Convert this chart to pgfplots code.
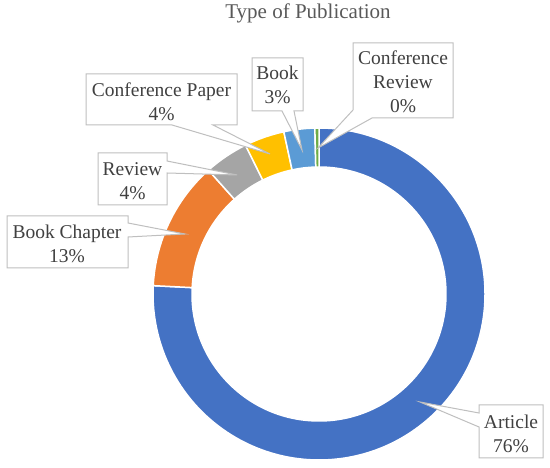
\documentclass[border=0pt]{standalone}
\usepackage{fontspec}
\setmainfont{Liberation Serif}
\usepackage{pgfplots}
\usepackage{pgfplotstable}
\pgfplotsset{compat=1.18}

\definecolor{cArticle}{HTML}{4472C4}
\definecolor{cChapter}{HTML}{ED7D31}
\definecolor{cReview}{HTML}{A5A5A5}
\definecolor{cPaper}{HTML}{FFC000}
\definecolor{cBook}{HTML}{5B9BD5}
\definecolor{cConfRev}{HTML}{70AD47}
\definecolor{titlegray}{HTML}{595959}
\definecolor{labelgray}{HTML}{404040}
\definecolor{boxgray}{HTML}{BFBFBF}

% share of each publication type (%), clockwise from 12 o'clock
\pgfplotstableread{
value color
75.8 cArticle
12.6 cChapter
4.3  cReview
3.9  cPaper
3.0  cBook
0.4  cConfRev
}\pubdata

\tikzset{callout/.style={draw=boxgray, fill=white, line width=1bp, line join=miter},
  lbl/.style={align=center, text=labelgray, inner sep=0pt,
    font=\fontsize{19.5bp}{24bp}\selectfont}}

\begin{document}
\begin{tikzpicture}
\begin{axis}[hide axis, scale only axis, x=1bp, y=1bp,
  xmin=0, xmax=550, ymin=-468, ymax=0, clip=false]
\path (axis cs:0,-468) rectangle (axis cs:550,0);

% ring slices
\def\angstart{90}
\pgfplotsforeachungrouped \i in {0,...,5}{%
  \pgfplotstablegetelem{\i}{value}\of\pubdata \let\val\pgfplotsretval
  \pgfplotstablegetelem{\i}{color}\of\pubdata \let\col\pgfplotsretval
  \pgfmathsetmacro\angend{\angstart-3.6*\val}
  \edef\myslice{\noexpand\fill[\col, draw=white, line width=1.5bp, shift={(axis cs:319,-294)}]
    (\angstart:166bp) arc[start angle=\angstart, end angle=\angend, radius=166bp]
    -- (\angend:127bp) arc[start angle=\angend, end angle=\angstart, radius=127bp] -- cycle;}%
  \myslice
  \let\angstart\angend
}

% title
\node[text=titlegray, font=\fontsize{21bp}{24bp}\selectfont] at (axis cs:308,-13) {Type of Publication};

% callouts
\filldraw[callout] (axis cs:479,-405) -- (axis cs:543,-405) -- (axis cs:543,-458) -- (axis cs:479,-458)
  -- (axis cs:479,-427) -- (axis cs:420,-402) -- (axis cs:479,-413) -- cycle;
\node[lbl] at (axis cs:511,-433.5) {Article\\76\%};

\filldraw[callout] (axis cs:7,-216) -- (axis cs:128,-216) -- (axis cs:128,-223) -- (axis cs:185,-234)
  -- (axis cs:128,-237) -- (axis cs:128,-268) -- (axis cs:7,-268) -- cycle;
\node[lbl] at (axis cs:67,-243.5) {Book Chapter\\13\%};

\filldraw[callout] (axis cs:98,-153) -- (axis cs:167,-153) -- (axis cs:167,-161) -- (axis cs:237,-175)
  -- (axis cs:167,-173) -- (axis cs:167,-205) -- (axis cs:98,-205) -- cycle;
\node[lbl] at (axis cs:132.5,-181) {Review\\4\%};

\filldraw[callout] (axis cs:86,-74) -- (axis cs:237,-74) -- (axis cs:237,-125) -- (axis cs:213,-125)
  -- (axis cs:270,-154) -- (axis cs:172,-125) -- (axis cs:86,-125) -- cycle;
\node[lbl] at (axis cs:161.5,-101.5) {Conference Paper\\4\%};

\filldraw[callout] (axis cs:252,-58) -- (axis cs:303,-58) -- (axis cs:303,-111) -- (axis cs:294,-111)
  -- (axis cs:302,-150) -- (axis cs:282,-111) -- (axis cs:252,-111) -- cycle;
\node[lbl] at (axis cs:277.5,-85) {Book\\3\%};

\filldraw[callout] (axis cs:353,-43) -- (axis cs:453,-43) -- (axis cs:453,-118) -- (axis cs:372,-118)
  -- (axis cs:318,-148) -- (axis cs:353,-110) -- cycle;
\node[lbl] at (axis cs:403,-82) {Conference\\Review\\0\%};
\end{axis}
\end{tikzpicture}
\end{document}
